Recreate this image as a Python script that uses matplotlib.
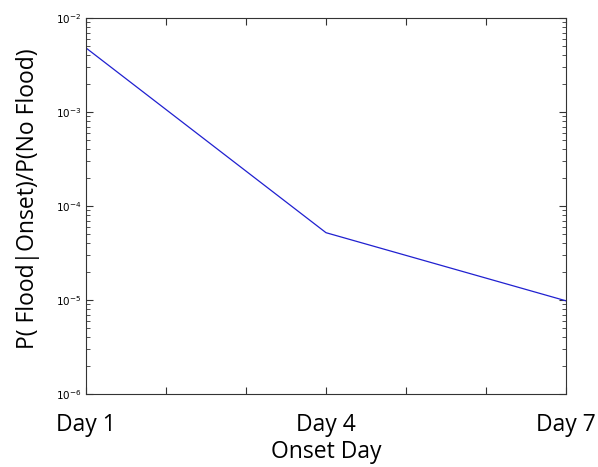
import matplotlib
matplotlib.use("Agg")
import matplotlib.pyplot as plt
from matplotlib.ticker import LogLocator, LogFormatterMathtext, NullFormatter

onset_day = [1, 4, 7]
ratio = [4.8e-3, 5.2e-5, 9.8e-6]
x_ticks = [1, 2, 3, 4, 5, 6, 7]
x_tick_labels = ["Day 1", "", "", "Day 4", "", "", "Day 7"]

fig = plt.figure(figsize=(5.98, 4.67), dpi=100)
ax = fig.add_axes([0.1438, 0.1563, 0.8027, 0.8052])
ax.plot(onset_day, ratio, color="#2020d0", linewidth=0.9)
ax.set_yscale("log")
ax.set_ylim(1e-6, 1e-2)
ax.set_xlim(1, 7)
ax.set_xticks(x_ticks)
ax.set_xticklabels(x_tick_labels, fontsize=16.5, family="Open Sans")
ax.yaxis.set_major_locator(LogLocator(base=10, numticks=10))
ax.yaxis.set_major_formatter(LogFormatterMathtext())
ax.yaxis.set_minor_locator(LogLocator(base=10, subs=range(2, 10), numticks=10))
ax.yaxis.set_minor_formatter(NullFormatter())
ax.tick_params(axis="both", which="both", direction="in", top=True, right=True, colors="#333333")
ax.tick_params(axis="y", which="major", length=5, labelsize=7.5, labelcolor="black")
ax.tick_params(axis="y", which="minor", length=3)
ax.tick_params(axis="x", which="major", length=5, labelcolor="black", pad=14)
for s in ax.spines.values():
    s.set_color("#333333")
ax.set_xlabel("Onset Day", fontsize=16.5, family="Open Sans", labelpad=2)
ax.set_ylabel("P( Flood|Onset)/P(No Flood)", fontsize=16.5, family="Open Sans")
ax.yaxis.set_label_coords(-0.096, 0.52)
fig.savefig("out.png", dpi=100)
